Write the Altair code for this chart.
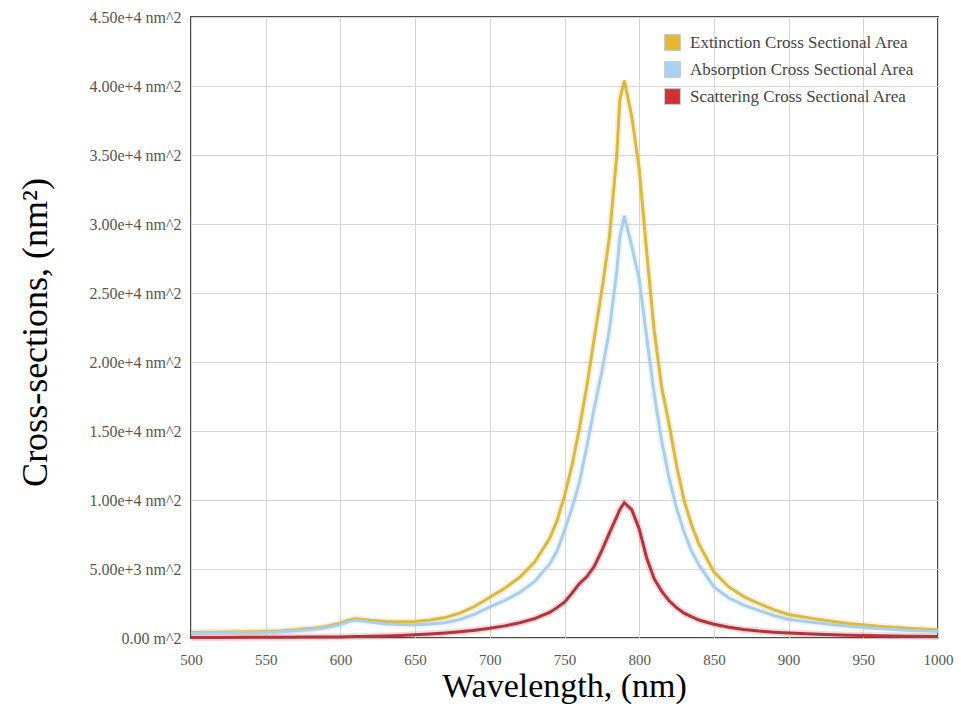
import altair as alt
import pandas as pd

wavelength = [500, 520, 540, 560, 580, 590, 600, 605, 610, 615, 620, 630, 640, 650, 660, 670,
              680, 690, 700, 710, 720, 730, 740, 745, 750, 755, 760, 765, 770, 775, 780, 785,
              787, 790, 795, 800, 805, 810, 815, 820, 825, 830, 835, 840, 850, 860, 870, 880,
              890, 900, 920, 940, 960, 980, 1000]

extinction = [400, 420, 450, 510, 680, 820, 1080, 1280, 1400, 1350, 1280, 1200, 1170, 1190, 1300, 1480,
              1800, 2300, 2950, 3600, 4400, 5500, 7200, 8500, 10300, 12500, 15200, 18300, 21800, 25200, 29000, 35000,
              39000, 40400, 37800, 34000, 28000, 22300, 18200, 15500, 12500, 10000, 8200, 6800, 4800, 3700, 3000, 2500,
              2050, 1700, 1350, 1050, 850, 700, 580]

absorption = [360, 375, 400, 455, 615, 750, 980, 1170, 1280, 1230, 1150, 1040, 980, 960, 1010, 1110,
              1340, 1730, 2250, 2720, 3300, 4100, 5350, 6300, 7800, 9400, 11300, 13900, 16700, 19300, 22300, 26600,
              29000, 30600, 28400, 26000, 21800, 17700, 14300, 11600, 9400, 7700, 6300, 5300, 3700, 2900, 2380, 2000,
              1630, 1340, 1080, 850, 690, 570, 480]

scattering = [40, 45, 50, 55, 65, 70, 80, 90, 100, 110, 120, 150, 190, 230, 290, 370,
              460, 570, 700, 880, 1100, 1400, 1850, 2200, 2600, 3250, 3950, 4450, 5200, 6350, 7600, 8800,
              9300, 9800, 9300, 7900, 5800, 4300, 3400, 2700, 2200, 1800, 1550, 1300, 1000, 780, 620, 500,
              420, 360, 270, 200, 160, 130, 100]

series_names = ["Extinction Cross Sectional Area",
                "Absorption Cross Sectional Area",
                "Scattering Cross Sectional Area"]
line_colors = ["#D9B940", "#A9CEEA", "#B3343D"]
legend_colors = ["#E6B733", "#A9D1F0", "#CF3235"]

x_ticks = [500, 550, 600, 650, 700, 750, 800, 850, 900, 950, 1000]
y_ticks = [0, 5000, 10000, 15000, 20000, 25000, 30000, 35000, 40000, 45000]

rows = []
for name, vals in zip(series_names, [extinction, absorption, scattering]):
    for w, v in zip(wavelength, vals):
        rows.append({"wavelength": w, "value": v, "series": name})
df = pd.DataFrame(rows)

serif = "Liberation Serif"

x_enc = alt.X("wavelength:Q",
              scale=alt.Scale(domain=[500, 1000], nice=False, zero=False),
              axis=alt.Axis(values=x_ticks, format="d", title="Wavelength, (nm)", grid=True,
                            gridColor="#d6d6d6", domain=False, ticks=False, labelPadding=14,
                            labelFont=serif, labelFontSize=15, labelColor="#555555",
                            titleFont=serif, titleFontSize=34, titleFontWeight="normal",
                            titleColor="#000000", titleX=373, titleY=48, titleAlign="center",
                            titleBaseline="middle", labelFlush=False))
y_enc = alt.Y("value:Q",
              scale=alt.Scale(domain=[0, 45000], nice=False),
              axis=alt.Axis(values=y_ticks, title="Cross-sections,  (nm²)", grid=True,
                            gridColor="#d6d6d6", domain=False, ticks=False, labelPadding=10,
                            labelFont=serif, labelFontSize=16, labelColor="#555555",
                            labelExpr="datum.value == 0 ? '0.00 m^2' : format(datum.value, '.2e') + ' nm^2'",
                            titleFont=serif, titleFontSize=36, titleFontWeight="normal",
                            titleColor="#000000", titleX=-156, titleY=315, titleAngle=-90,
                            titleAlign="center", titleBaseline="middle", labelFlush=False))

# reversed order for the line scale so its (disabled) legend is not merged with the fill legend
stroke_scale = alt.Scale(domain=series_names[::-1], range=line_colors[::-1])

halo = alt.Chart(df).mark_line(strokeWidth=7, opacity=0.18).encode(
    x=x_enc, y=y_enc,
    stroke=alt.Stroke("series:N", scale=stroke_scale, legend=None),
    order=alt.Order("wavelength:Q"),
)

lines = alt.Chart(df).mark_line(strokeWidth=3).encode(
    x=x_enc, y=y_enc,
    stroke=alt.Stroke("series:N", scale=stroke_scale, legend=None),
    order=alt.Order("wavelength:Q"),
)

legend_layer = alt.Chart(df).mark_rect(strokeWidth=0).encode(
    x=x_enc, x2=alt.X2("wavelength:Q"),
    y=y_enc, y2=alt.Y2("value:Q"),
    fill=alt.Fill("series:N", scale=alt.Scale(domain=series_names, range=legend_colors),
                  legend=alt.Legend(title=None, orient="none", legendX=473, legendY=17,
                                    symbolType="square", symbolSize=250, symbolOpacity=1,
                                    symbolStrokeColor="#c8c8c8", symbolStrokeWidth=1,
                                    labelFont=serif, labelFontSize=17, labelColor="#444444",
                                    rowPadding=6, labelOffset=9, padding=0,
                                    labelLimit=400)),
)

chart = alt.layer(halo, lines, legend_layer).properties(
    width=747, height=621,
    autosize=alt.AutoSizeParams(type="none"),
    padding={"left": 191, "top": 17, "right": 23, "bottom": 87},
    background="#ffffff",
).configure_view(stroke="#4a4a4a", strokeWidth=2)

chart.save("out.html", embed_options={"renderer": "svg", "actions": False})
